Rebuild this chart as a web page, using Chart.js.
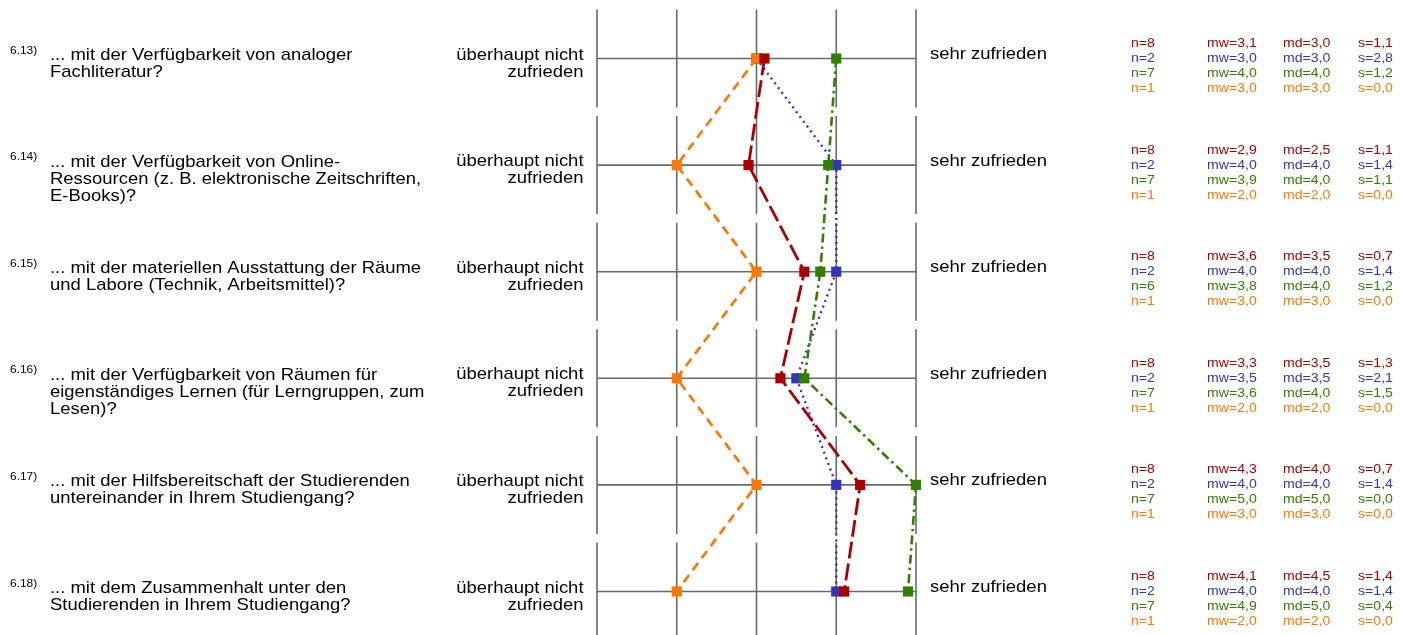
<!DOCTYPE html>
<html>
<head>
<meta charset="utf-8">
<script src="https://cdn.jsdelivr.net/npm/chart.js@4.4.0/dist/chart.umd.min.js"></script>
<style>
    html, body { margin: 0; padding: 0; background: #fff; }
    .chart { position: relative; width: 1401px; height: 635px; }
</style>
</head>
<body>
<div class="chart"><canvas id="profileChart"></canvas></div>
<script>
// -------------------------
// Data
// -------------------------
const itemNumbers = ['6.13)', '6.14)', '6.15)', '6.16)', '6.17)', '6.18)'];
const questions = [
    ['... mit der Verfügbarkeit von analoger', 'Fachliteratur?'],
    ['... mit der Verfügbarkeit von Online-', 'Ressourcen (z. B. elektronische Zeitschriften,', 'E-Books)?'],
    ['... mit der materiellen Ausstattung der Räume', 'und Labore (Technik, Arbeitsmittel)?'],
    ['... mit der Verfügbarkeit von Räumen für', 'eigenständiges Lernen (für Lerngruppen, zum', 'Lesen)?'],
    ['... mit der Hilfsbereitschaft der Studierenden', 'untereinander in Ihrem Studiengang?'],
    ['... mit dem Zusammenhalt unter den', 'Studierenden in Ihrem Studiengang?']
];
const leftPole = ['überhaupt nicht', 'zufrieden'];
const rightPole = 'sehr zufrieden';
const scaleTicks = [1, 2, 3, 4, 5];

// mean values (mw) per series
const mwRed = [3.1, 2.9, 3.6, 3.3, 4.3, 4.1];
const mwBlue = [3.0, 4.0, 4.0, 3.5, 4.0, 4.0];
const mwGreen = [4.0, 3.9, 3.8, 3.6, 5.0, 4.9];
const mwOrange = [3.0, 2.0, 3.0, 2.0, 3.0, 2.0];

// n, median, std dev per series
const nRed = [8, 8, 8, 8, 8, 8];
const nBlue = [2, 2, 2, 2, 2, 2];
const nGreen = [7, 7, 6, 7, 7, 7];
const nOrange = [1, 1, 1, 1, 1, 1];

const mdRed = [3.0, 2.5, 3.5, 3.5, 4.0, 4.5];
const mdBlue = [3.0, 4.0, 4.0, 3.5, 4.0, 4.0];
const mdGreen = [4.0, 4.0, 4.0, 4.0, 5.0, 5.0];
const mdOrange = [3.0, 2.0, 3.0, 2.0, 3.0, 2.0];

const sRed = [1.1, 1.1, 0.7, 1.3, 0.7, 1.4];
const sBlue = [2.8, 1.4, 1.4, 2.1, 1.4, 1.4];
const sGreen = [1.2, 1.1, 1.2, 1.5, 0.0, 0.4];
const sOrange = [0.0, 0.0, 0.0, 0.0, 0.0, 0.0];

// -------------------------
// Styles
// -------------------------
const RED = '#aa0000';
const BLUE = '#3333bb';
const GREEN = '#338000';
const ORANGE = '#ff7700';
const GRID = '#6a6a6a';
const FONT = '"Liberation Sans", Arial, sans-serif';
const STRETCH = 1.085; // text in the original is a bit wide

const statRows = [
    { color: RED, n: nRed, mw: mwRed, md: mdRed, s: sRed },
    { color: BLUE, n: nBlue, mw: mwBlue, md: mdBlue, s: sBlue },
    { color: GREEN, n: nGreen, mw: mwGreen, md: mdGreen, s: sGreen },
    { color: ORANGE, n: nOrange, mw: mwOrange, md: mdOrange, s: sOrange }
];

const fmt = v => v.toFixed(1).replace('.', ',');

function drawText(ctx, str, x, y, align) {
    ctx.save();
    ctx.translate(x, y);
    ctx.scale(STRETCH, 1);
    ctx.textAlign = align;
    ctx.fillText(str, 0, 0);
    ctx.restore();
}

// -------------------------
// Plugin: segmented grid + texts
// -------------------------
const profileDecor = {
    id: 'profileDecor',
    beforeDatasetsDraw(chart) {
        const { ctx, scales: { x, y } } = chart;
        ctx.save();
        ctx.strokeStyle = GRID;
        ctx.lineWidth = 1.6;
        itemNumbers.forEach((_, i) => {
            const py = y.getPixelForValue(i);
            ctx.beginPath();
            scaleTicks.forEach(t => {
                const px = x.getPixelForValue(t);
                ctx.moveTo(px, py - 49);
                ctx.lineTo(px, py + 49);
            });
            ctx.moveTo(x.getPixelForValue(scaleTicks[0]), py);
            ctx.lineTo(x.getPixelForValue(scaleTicks[scaleTicks.length - 1]), py);
            ctx.stroke();
        });
        ctx.restore();
    },
    afterDraw(chart) {
        const { ctx, scales: { x, y } } = chart;
        const left = x.getPixelForValue(scaleTicks[0]);
        const right = x.getPixelForValue(scaleTicks[scaleTicks.length - 1]);
        ctx.save();
        ctx.textBaseline = 'alphabetic';
        itemNumbers.forEach((num, i) => {
            const py = y.getPixelForValue(i);

            ctx.fillStyle = '#000';
            ctx.font = '11px ' + FONT;
            drawText(ctx, num, 10, py - 5, 'left');

            ctx.font = '17px ' + FONT;
            questions[i].forEach((line, k) => {
                drawText(ctx, line, 50, py + 1.5 + k * 17, 'left');
            });
            leftPole.forEach((line, k) => {
                drawText(ctx, line, left - 13.5, py + 1 + k * 17, 'right');
            });
            drawText(ctx, rightPole, right + 14, py + 0.5, 'left');

            ctx.font = '13px ' + FONT;
            statRows.forEach((row, k) => {
                const by = py - 11.5 + k * 15;
                ctx.fillStyle = row.color;
                drawText(ctx, 'n=' + row.n[i], 1131, by, 'left');
                drawText(ctx, 'mw=' + fmt(row.mw[i]), 1207, by, 'left');
                drawText(ctx, 'md=' + fmt(row.md[i]), 1283, by, 'left');
                drawText(ctx, 's=' + fmt(row.s[i]), 1358, by, 'left');
            });
        });
        ctx.restore();
    }
};

// -------------------------
// Chart
// -------------------------
function series(data, color, width, dash) {
    return {
        data: data,
        borderColor: color,
        backgroundColor: color,
        borderWidth: width,
        borderDash: dash,
        pointStyle: 'rect',
        pointRadius: 7.2,
        pointBorderWidth: 0,
        pointBackgroundColor: color,
        tension: 0,
        clip: false,
        fill: false
    };
}

const ctx = document.getElementById('profileChart').getContext('2d');

new Chart(ctx, {
    type: 'line',
    data: {
        labels: itemNumbers,
        datasets: [
            series(mwRed, RED, 2.8, [17, 5]),
            series(mwOrange, ORANGE, 2.7, [9, 6]),
            series(mwGreen, GREEN, 2.6, [9, 4, 2.5, 4]),
            series(mwBlue, BLUE, 2.4, [2, 4])
        ]
    },
    options: {
        indexAxis: 'y',
        responsive: true,
        maintainAspectRatio: false,
        animation: false,
        layout: {
            padding: { left: 597, right: 485, top: 58.5, bottom: 43.5 }
        },
        plugins: {
            legend: { display: false },
            tooltip: { enabled: false }
        },
        scales: {
            x: {
                type: 'linear',
                min: 1,
                max: 5,
                display: false
            },
            y: {
                type: 'category',
                offset: false,
                display: false
            }
        }
    },
    plugins: [profileDecor]
});
</script>
</body>
</html>
